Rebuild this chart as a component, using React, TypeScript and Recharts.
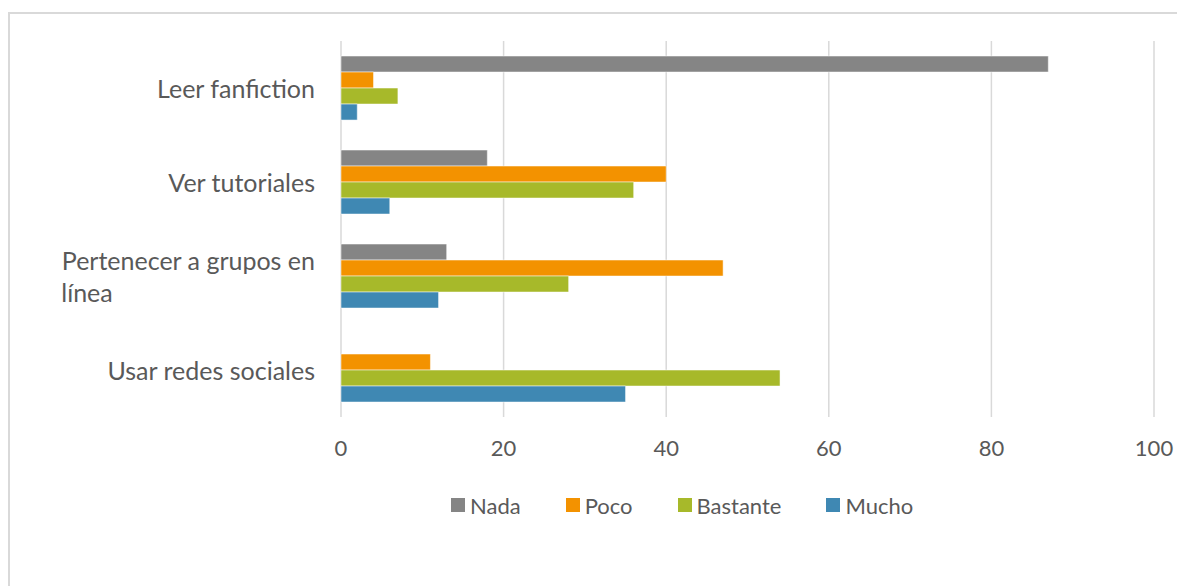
import { Bar, BarChart, CartesianGrid, Legend, XAxis, YAxis } from "recharts"

const categories = ["Leer fanfiction", "Ver tutoriales", "Pertenecer a grupos en línea", "Usar redes sociales"]
const nada = [87, 18, 13, 0]
const poco = [4, 40, 47, 11]
const bastante = [7, 36, 28, 54]
const mucho = [2, 6, 12, 35]
const xTicks = [0, 20, 40, 60, 80, 100]

const seriesNames = ["Nada", "Poco", "Bastante", "Mucho"]
const seriesColors = ["#858585", "#f39200", "#a7b92a", "#3f88b3"]

const FONT = "Lato, sans-serif"
const FONT_SIZE = 22
const CAT_FONT_SIZE = 25
const TEXT = "#595959"

// label wrapping as in the original (second line starts under the first)
const wrapAt: Record<string, string[]> = {
  "Pertenecer a grupos en línea": ["Pertenecer a grupos en", "línea"],
}

function measure(text: string) {
  const ctx = document.createElement("canvas").getContext("2d")
  if (!ctx) return text.length * 11
  ctx.font = `${CAT_FONT_SIZE}px Lato`
  return ctx.measureText(text).width
}

function CategoryTick(props: any) {
  const { x, y, payload } = props
  const lines = wrapAt[payload.value] || [payload.value]
  if (lines.length === 1) {
    return (
      <text x={x} y={y} textAnchor="end" dominantBaseline="central" fill={TEXT} fontSize={CAT_FONT_SIZE} fontFamily={FONT}>
        {payload.value}
      </text>
    )
  }
  const w = measure(lines[0])
  return (
    <g>
      <text x={x} y={y - 16} textAnchor="end" dominantBaseline="central" fill={TEXT} fontSize={CAT_FONT_SIZE} fontFamily={FONT}>
        {lines[0]}
      </text>
      <text x={x - w} y={y + 16} textAnchor="start" dominantBaseline="central" fill={TEXT} fontSize={CAT_FONT_SIZE} fontFamily={FONT}>
        {lines[1]}
      </text>
    </g>
  )
}

function ValueTick(props: any) {
  const { x, y, payload } = props
  return (
    <text x={x} y={y + 30} textAnchor="middle" dominantBaseline="central" fill={TEXT} fontSize={FONT_SIZE} fontFamily={FONT}>
      {payload.value}
    </text>
  )
}

function LegendContent() {
  return (
    <div style={{ display: "flex", alignItems: "center", fontFamily: FONT, fontSize: FONT_SIZE, color: TEXT, height: 24 }}>
      {seriesNames.map((name, i) => (
        <div key={name} style={{ display: "flex", alignItems: "center", marginRight: 45 }}>
          <span style={{ width: 14, height: 14, background: seriesColors[i], marginRight: 5, display: "inline-block" }} />
          <span>{name}</span>
        </div>
      ))}
    </div>
  )
}

export default function App() {
  const data = categories.map((name, i) => ({
    name,
    Nada: nada[i],
    Poco: poco[i],
    Bastante: bastante[i],
    Mucho: mucho[i],
  }))

  return (
    <div style={{ position: "relative", width: 1177, height: 578, overflow: "hidden" }}>
      <div
        style={{
          position: "absolute",
          left: 0,
          top: 4,
          width: 1300,
          height: 700,
          border: "2px solid #d9d9d9",
          boxSizing: "border-box",
        }}
      />
      <div style={{ position: "absolute", left: 0, top: 0 }}>
        <BarChart
          width={1177}
          height={578}
          data={data}
          layout="vertical"
          margin={{ top: 33, right: 31, left: 0, bottom: 105 }}
          barCategoryGap="16%"
          barGap={0}
        >
          <CartesianGrid horizontal={false} stroke="#d9d9d9" strokeWidth={1.5} />
          <XAxis
            type="number"
            domain={[0, 100]}
            ticks={xTicks}
            axisLine={false}
            tickLine={false}
            tickSize={0}
            tickMargin={0}
            height={40}
            tick={<ValueTick />}
          />
          <YAxis
            type="category"
            dataKey="name"
            width={333}
            axisLine={false}
            tickLine={false}
            tickSize={0}
            tickMargin={26}
            tick={<CategoryTick />}
          />
          <Legend
            verticalAlign="bottom"
            content={<LegendContent />}
            wrapperStyle={{ position: "absolute", left: 443, top: 485, width: "auto" }}
          />
          {seriesNames.map((name, i) => (
            <Bar
              key={name}
              dataKey={name}
              fill={seriesColors[i]}
              stroke="#ffffff"
              strokeWidth={0.5}
              isAnimationActive={false}
            />
          ))}
        </BarChart>
      </div>
    </div>
  )
}
